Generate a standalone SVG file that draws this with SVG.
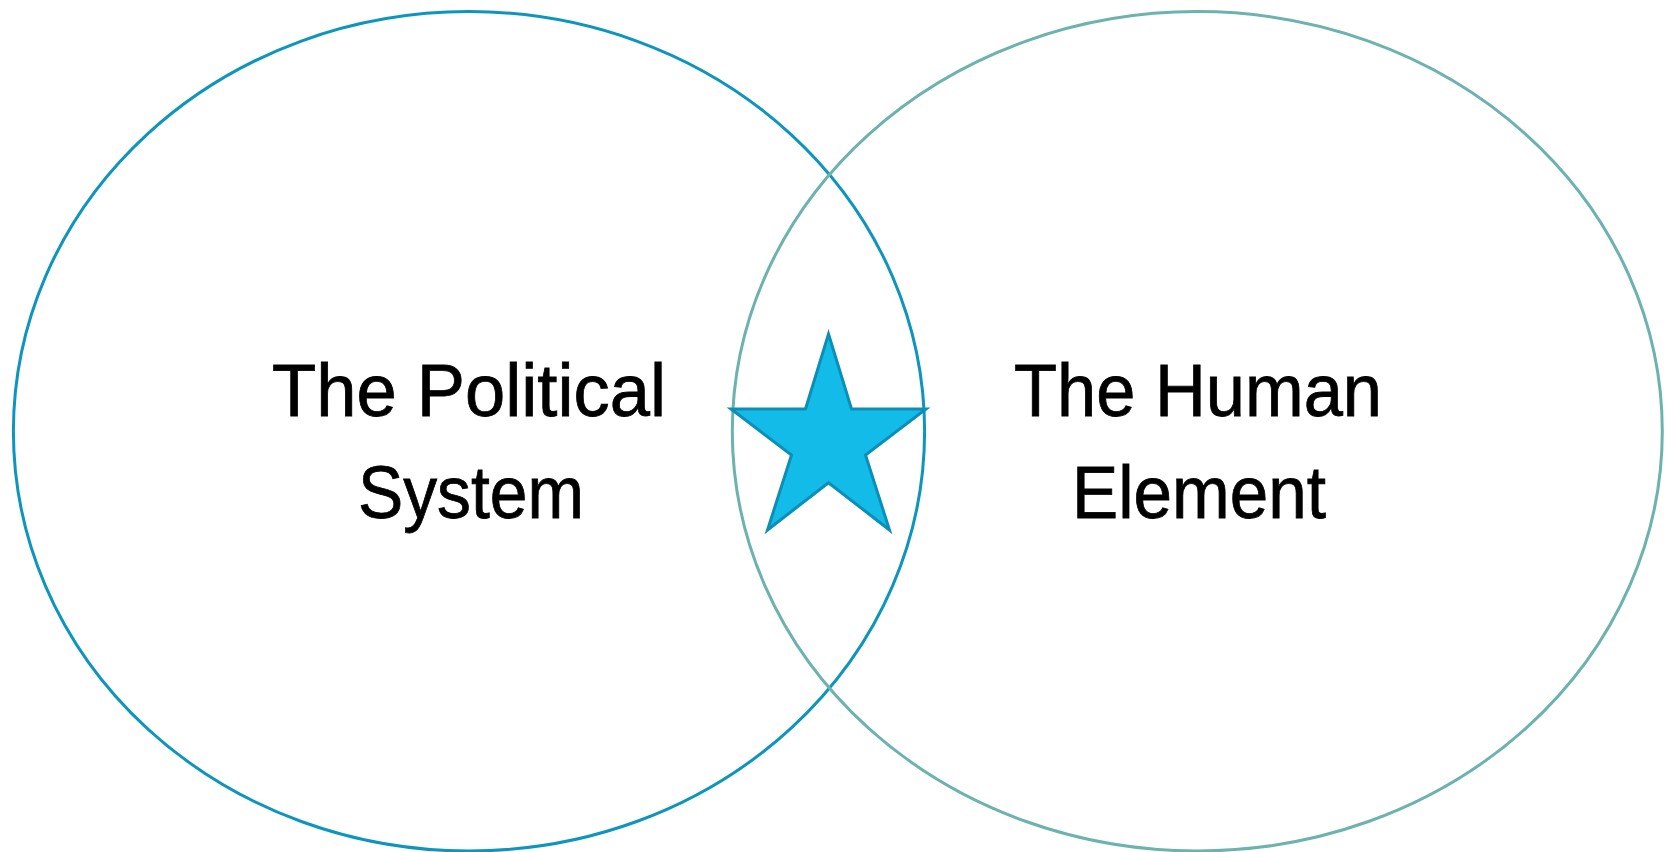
<svg xmlns="http://www.w3.org/2000/svg" width="1674" height="852" viewBox="0 0 1674 852">
<style>
.lbl{font-family:"Liberation Sans",Arial,sans-serif;font-size:74px;fill:#000;stroke:#000;stroke-width:0.8}
.ring{fill:none;stroke-width:3}
</style>
<rect width="1674" height="852" fill="#fff"/>
<g id="political-system">
<ellipse class="ring" cx="469" cy="431.3" rx="455.6" ry="419.7" stroke="#0E95BD"/>
<text class="lbl" x="272" y="416" textLength="394" lengthAdjust="spacingAndGlyphs">The Political</text>
<text class="lbl" x="358" y="518" textLength="226" lengthAdjust="spacingAndGlyphs">System</text>
</g>
<g id="human-element">
<ellipse class="ring" cx="1197.3" cy="431.3" rx="465" ry="419.7" stroke="#6CB2AE"/>
<text class="lbl" x="1014" y="416" textLength="368" lengthAdjust="spacingAndGlyphs">The Human</text>
<text class="lbl" x="1072" y="518" textLength="254" lengthAdjust="spacingAndGlyphs">Element</text>
</g>
<g id="star">
<polygon points="828.5,334 851.5,409 926,409 865.5,455 889.5,530 828.5,482.7 767.5,530 791.5,455 731,409 805.5,409" fill="#13BBE8" stroke="#0C8FB6" stroke-width="3" stroke-linejoin="miter"/>
</g>
<g id="connectors"/>
</svg>
